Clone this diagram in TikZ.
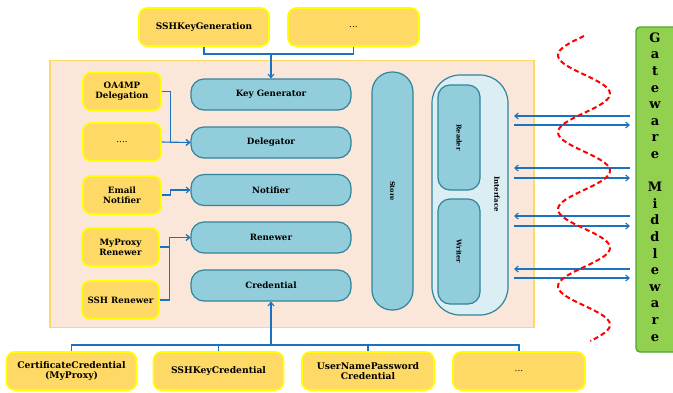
\documentclass[tikz,border=0pt]{standalone}
\usepackage{fontspec}
\setmainfont{DejaVu Serif}
\usetikzlibrary{arrows.meta,calc}
\definecolor{ybfill}{HTML}{FFD966}
\definecolor{ybdraw}{HTML}{FFFF00}
\definecolor{bbfill}{HTML}{92CDDC}
\definecolor{bbdraw}{HTML}{31849B}
\definecolor{iffill}{HTML}{DAEEF3}
\definecolor{frfill}{HTML}{FBE7DA}
\definecolor{frdraw}{HTML}{FFD966}
\definecolor{conn}{HTML}{1A73C0}
\definecolor{gwfill}{HTML}{92D050}
\definecolor{gwdraw}{HTML}{4EA72E}
\tikzset{
  ybox/.style={draw=ybdraw, fill=ybfill, line width=1.6pt, rounded corners=8pt, align=center,
    font=\bfseries\fontsize{8.7}{10}\selectfont, inner sep=0pt},
  bbox/.style={draw=bbdraw, fill=bbfill, line width=1.2pt, rounded corners=13pt, align=center,
    font=\bfseries\fontsize{8.7}{10}\selectfont, inner sep=0pt, minimum width=160pt, minimum height=31pt},
  lnk/.style={draw=conn, line width=1.1pt},
  arr/.style={lnk, -{Straight Barb[length=3.5pt,width=6pt]}},
  rot/.style={rotate=-90, font=\bfseries\fontsize{6.6}{7.5}\selectfont},
}
\begin{document}
\begin{tikzpicture}[x=1pt,y=-1pt]
\useasboundingbox (0,0) rectangle (673,392);
% main frame
\node[draw=frdraw, fill=frfill, line width=1.3pt, minimum width=484pt, minimum height=267pt, inner sep=0pt] (frame) at (292,194) {};
% top boxes
\node[ybox, minimum width=130pt, minimum height=38pt, font=\bfseries\fontsize{9}{10}\selectfont] (skg) at (204,27) {SSHKeyGeneration};
\node[ybox, minimum width=131pt, minimum height=38pt, font=\fontsize{9}{10}\selectfont] (tdots) at (353.5,27) {...};
% left boxes
\node[ybox, minimum width=78pt, minimum height=38pt] (oa) at (122,91.5) {OA4MP\\Delegation};
\node[ybox, minimum width=78pt, minimum height=38pt, font=\fontsize{9}{10}\selectfont] (ldots) at (122,142) {....};
\node[ybox, minimum width=78pt, minimum height=38pt] (em) at (122,195) {Email\\Notifier};
\node[ybox, minimum width=77pt, minimum height=38pt] (mp) at (120.5,247) {MyProxy\\Renewer};
\node[ybox, minimum width=77pt, minimum height=38pt] (ssr) at (120.5,300) {SSH Renewer};
% blue boxes
\node[bbox] (kg) at (271,94.5) {Key Generator};
\node[bbox] (del) at (271,142.5) {Delegator};
\node[bbox] (nt) at (271,190) {Notifier};
\node[bbox] (ren) at (271,237.5) {Renewer};
\node[bbox] (cred) at (271,285.5) {Credential};
% store / interface
\node[draw=bbdraw, fill=bbfill, line width=1.2pt, rounded corners=20pt, minimum width=41pt, minimum height=238pt, inner sep=0pt] (store) at (392.5,191) {};
\node[rot] at (store.center) {Store};
\node[draw=bbdraw, fill=iffill, line width=1.2pt, rounded corners=28pt, minimum width=76pt, minimum height=240pt, inner sep=0pt] (intf) at (470,195) {};
\node[rot, font=\bfseries\fontsize{7}{8}\selectfont] at (497,194) {Interface};
\node[draw=bbdraw, fill=bbfill, line width=1.2pt, rounded corners=12pt, minimum width=42pt, minimum height=105pt, inner sep=0pt] (rd) at (459,137.5) {};
\node[rot] at (rd.center) {Reader};
\node[draw=bbdraw, fill=bbfill, line width=1.2pt, rounded corners=12pt, minimum width=42pt, minimum height=105pt, inner sep=0pt] (wr) at (459,251.5) {};
\node[rot] at (wr.center) {Writer};
% bottom boxes
\node[ybox, minimum width=130pt, minimum height=38pt, font=\bfseries\fontsize{9.2}{10.5}\selectfont] (cc) at (71.5,371) {CertificateCredential\\(MyProxy)};
\node[ybox, minimum width=130pt, minimum height=38pt, font=\bfseries\fontsize{9.2}{10.5}\selectfont] (skc) at (218.5,371) {SSHKeyCredential};
\node[ybox, minimum width=132pt, minimum height=38pt, font=\bfseries\fontsize{9.2}{10.5}\selectfont] (unp) at (368,371) {UserNamePassword\\Credential};
\node[ybox, minimum width=132pt, minimum height=38pt, font=\fontsize{9}{10}\selectfont] (bdots) at (519,371) {...};
% gateway
\node[draw=gwdraw, fill=gwfill, line width=1.4pt, rounded corners=4pt, minimum width=45pt, minimum height=325pt, inner sep=0pt] (gw) at (658.5,189.5) {};
\node[align=center, font=\bfseries\fontsize{13}{16.6}\selectfont, inner sep=0pt] (gwt) at (655,187) {G\\a\\t\\e\\w\\a\\r\\e\\[16.6pt]M\\i\\d\\d\\l\\e\\w\\a\\r\\e};
% top connectors
\coordinate (tj) at (271,54);
\draw[lnk] (skg.south) -- (skg.south |- tj) -- (tdots.south |- tj) -- (tdots.south);
\draw[arr] (tj) -- (kg.north);
% left connectors
\draw[arr] (oa.east) -- ++(9,0) |- (del.west);
\draw[arr] (ldots.east) -- (del.west);
\draw[arr] (em.east) -- ++(9,0) |- (nt.west);
\draw[arr] (mp.east) -- ++(9.5,0) |- (ren.west);
\draw[arr] (ssr.east) -- ++(9.5,0) |- (ren.west);
% bottom connectors
\coordinate (bj) at (271,345);
\draw[lnk] (cc.north) -- (cc.north |- bj) -- (bdots.north |- bj) -- (bdots.north);
\draw[lnk] (skc.north) -- (skc.north |- bj);
\draw[lnk] (unp.north) -- (unp.north |- bj);
\draw[arr] (bj) -- (cred.south);
% interface arrows
\foreach \ya/\yb [count=\i] in {116/125, 168/178, 216/226, 269/278}{
  \coordinate (l\i) at (514,\ya);
  \coordinate (r\i) at (630,\ya);
  \coordinate (ls\i) at (514,\yb);
  \coordinate (rs\i) at (630,\yb);
  \draw[arr] (r\i) -- (l\i);
  \draw[arr] (ls\i) -- (rs\i);
}
% wave
\draw[red, line width=2pt, dash pattern=on 5pt off 3pt] plot[domain=36:341, samples=150, smooth] ({584-26*sin(4.6753*(\x-36))}, \x);
\end{tikzpicture}
\end{document}
